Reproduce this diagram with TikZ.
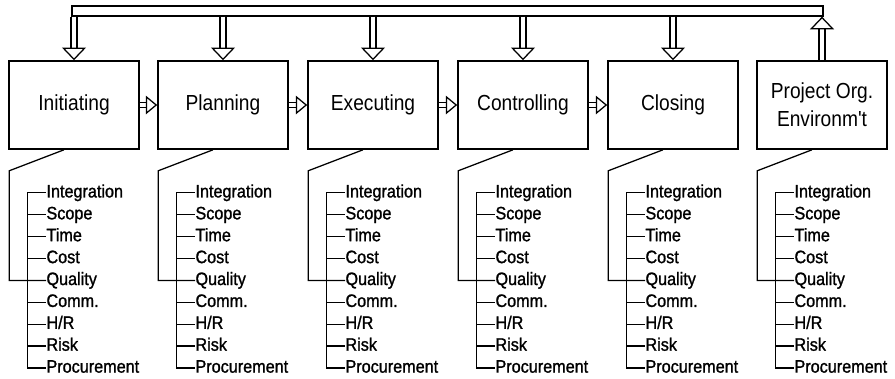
\documentclass[tikz,border=0pt]{standalone}
\usepackage{fontspec}
\setmainfont{Liberation Sans}
\newfontfamily\phasefont[FakeStretch=0.88]{Liberation Sans}
\newfontfamily\areafont[FakeStretch=0.9, FakeBold=1.2]{Liberation Sans}
\usetikzlibrary{arrows.meta,positioning,calc}
\tikzset{
	phase/.style = {rectangle, draw=black, line width=1.1pt, minimum width=3.25cm,
		minimum height=2.2cm, align=center, font=\phasefont\fontsize{15.5}{20}\selectfont},% phase box
	area/.style = {anchor=west, inner sep=0pt, text height=1.5ex, text depth=0.25ex,
		font=\areafont\fontsize{12.8}{13}\selectfont},% knowledge area
	flow/.style = {draw=black, double, double distance=3.5pt, line width=0.9pt,
		-{Triangle[open, width=17pt, length=9pt]}},
	sideflow/.style = {flow, double distance=2.8pt, -{Triangle[open, width=13pt, length=8pt]}},
	branch/.style = {line width=0.9pt}
}
\begin{document}
\begin{tikzpicture}[x=0.025cm, y=-0.025cm]
\useasboundingbox (0,0) rectangle (895,378);
% phases
\foreach \n/\x/\lab in {init/74/Initiating, plan/223/Planning, exec/373/Executing,
	ctrl/523/Controlling, close/673/Closing}
	\node [phase] (\n) at (\x,105) {\lab};
\node [phase] (proj) at (822,105) {Project Org.\\Environm't};
% feedback bus
\node [draw, line width=0.9pt, inner sep=0pt, minimum width=18.775cm,
	minimum height=0.25cm] (bus) at (447.5,11) {};
\foreach \n in {init,plan,exec,ctrl,close}
	\draw [flow] (bus.south -| \n.north) -- (\n.north);
\draw [flow] (proj.north) -- (proj.north |- bus.south);
\draw [sideflow] (init) -- (plan);
\draw [sideflow] (plan) -- (exec);
\draw [sideflow] (exec) -- (ctrl);
\draw [sideflow] (ctrl) -- (close);
% knowledge areas
\foreach \n in {init,plan,exec,ctrl,close,proj}{
	\foreach \t [count=\i] in {Integration,Scope,Time,Cost,Quality,{Comm.},{H/R},Risk,Procurement}
		\node [area] (\n-\i) at ([shift={(38,{43+(\i-1)*21.9})}]\n.south west) {\t};
	\coordinate (\n-trunk) at ([shift={(19,0)}]\n.south west);
	\draw [branch] (\n-1.west -| \n-trunk) -- (\n-9.west -| \n-trunk);
	\foreach \i in {1,...,9}
		\draw [branch] (\n-\i.west -| \n-trunk) -- (\n-\i.west);
	\draw [branch] ([shift={(-10,0)}]\n.south) -- ([shift={(1,21)}]\n.south west) |- (\n-5.west);
}
\end{tikzpicture}
\end{document}
